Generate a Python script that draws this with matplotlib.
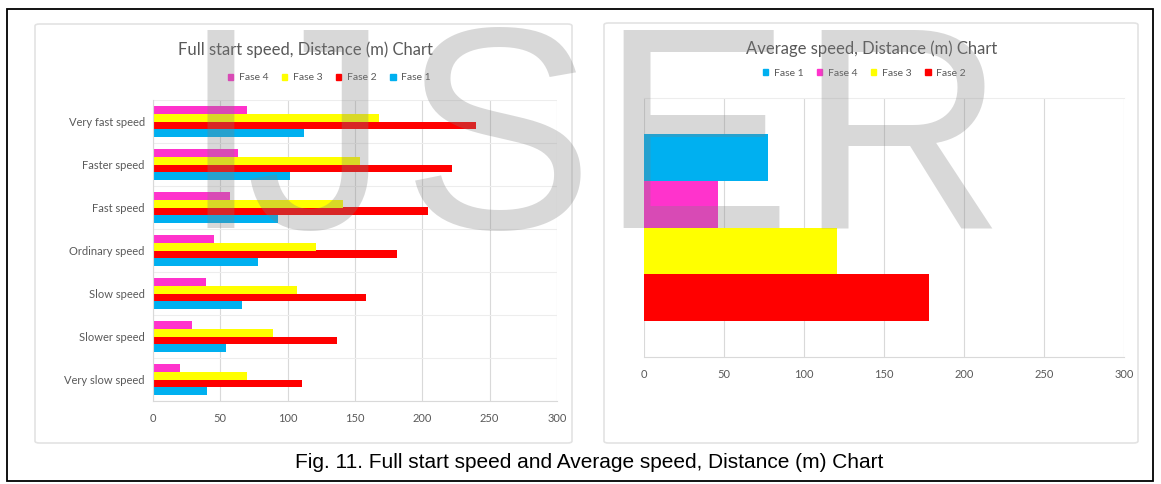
import numpy as np
import matplotlib
matplotlib.use("Agg")
import matplotlib.pyplot as plt
from matplotlib.patches import Patch, FancyBboxPatch, Rectangle

# data
categories = ["Very slow speed", "Slower speed", "Slow speed", "Ordinary speed",
              "Fast speed", "Faster speed", "Very fast speed"]
fase1 = [40, 54, 66, 78, 93, 102, 112]
fase2 = [111, 137, 158, 181, 204, 222, 240]
fase3 = [70, 89, 107, 121, 141, 154, 168]
fase4 = [20, 29, 39, 45, 57, 63, 70]

avg_labels = ["Fase 1", "Fase 4", "Fase 3", "Fase 2"]   # top to bottom
avg_values = [77.5, 46, 120.5, 178]

x_ticks = [0, 50, 100, 150, 200, 250, 300]

watermark = "IJSER"

c_f1 = "#00B0F0"
c_f2 = "#FF0000"
c_f3 = "#FFFF00"
c_f4 = "#FF33CC"
grey_txt = "#595959"
grid_c = "#D9D9D9"

W, H = 1161, 484
fig = plt.figure(figsize=(W / 100, H / 100), dpi=100)
fig.patch.set_facecolor("white")


def box(x0, y0, x1, y1):
    # pixel box (top-left origin) -> figure fraction rect
    return [x0 / W, 1 - y1 / H, (x1 - x0) / W, (y1 - y0) / H]


def px(x, y):
    return x / W, 1 - y / H


# outer frame and the two chart panels
fig.patches.append(Rectangle(px(7, 481), (1153 - 7) / W, (481 - 9) / H,
                             transform=fig.transFigure, fill=False,
                             edgecolor="black", lw=1.3, zorder=-2))
for (x0, y0, x1, y1) in [(35, 24, 572, 443), (604, 23, 1138, 443)]:
    fig.patches.append(FancyBboxPatch(px(x0, y1), (x1 - x0) / W, (y1 - y0) / H,
                                      boxstyle="round,pad=0,rounding_size=0.004",
                                      transform=fig.transFigure, facecolor="white",
                                      edgecolor="#E3E3E3", lw=1.2, zorder=-1))

font = "Lato"

# ---- left chart: full start speed
ax1 = fig.add_axes(box(153, 100, 557, 401))
y = np.arange(len(categories))
h = 0.175
ax1.barh(y - 1.5 * h, fase1, height=h, color=c_f1, zorder=2)
ax1.barh(y - 0.5 * h, fase2, height=h, color=c_f2, zorder=2)
ax1.barh(y + 0.5 * h, fase3, height=h, color=c_f3, zorder=2)
ax1.barh(y + 1.5 * h, fase4, height=h, color=c_f4, zorder=2)
ax1.set_ylim(-0.5, len(categories) - 0.5)
ax1.set_xlim(0, 300)
ax1.set_xticks(x_ticks)
ax1.set_yticks(y)
ax1.set_yticklabels(categories, fontfamily=font)
ax1.set_yticks(np.arange(len(categories) + 1) - 0.5, minor=True)
ax1.grid(axis="x", color=grid_c, lw=0.8, zorder=0)
ax1.grid(axis="y", which="minor", color="#EDEDED", lw=0.8, zorder=0)
ax1.tick_params(axis="both", which="both", length=0, colors=grey_txt, labelsize=8)
ax1.tick_params(axis="x", pad=9)
ax1.tick_params(axis="y", pad=6)
for s in ["top", "right"]:
    ax1.spines[s].set_visible(False)
ax1.spines["left"].set_color(grid_c)
ax1.spines["bottom"].set_color(grid_c)
for lab in ax1.get_xticklabels():
    lab.set_fontfamily(font)

fig.text(*px(305, 50), "Full start speed, Distance (m) Chart", ha="center",
         va="center", fontsize=12, color=grey_txt, fontfamily=font)
h1 = [Patch(color=c_f4), Patch(color=c_f3), Patch(color=c_f2), Patch(color=c_f1)]
fig.legend(h1, ["Fase 4", "Fase 3", "Fase 2", "Fase 1"], loc="center",
           bbox_to_anchor=px(329, 78), ncol=4, frameon=False,
           prop={"family": font, "size": 7.5}, labelcolor=grey_txt,
           handlelength=0.55, handleheight=0.55, handletextpad=0.5,
           columnspacing=1.3)

# ---- right chart: average speed
ax2 = fig.add_axes(box(644, 98, 1124, 357))
hb = 0.18
offs = [1.5 * hb, 0.5 * hb, -0.5 * hb, -1.5 * hb]
cols = [c_f1, c_f4, c_f3, c_f2]
for v, o, c in zip(avg_values, offs, cols):
    ax2.barh(o, v, height=hb, color=c, zorder=2)
ax2.set_ylim(-0.5, 0.5)
ax2.set_xlim(0, 300)
ax2.set_xticks(x_ticks)
ax2.set_yticks([])
ax2.grid(axis="x", color=grid_c, lw=0.8, zorder=0)
ax2.tick_params(axis="x", length=0, colors=grey_txt, labelsize=8, pad=9)
for s in ["left", "right"]:
    ax2.spines[s].set_visible(False)
ax2.spines["top"].set_color("#EDEDED")
ax2.spines["bottom"].set_color(grid_c)
for lab in ax2.get_xticklabels():
    lab.set_fontfamily(font)

fig.text(*px(872, 49), "Average speed, Distance (m) Chart", ha="center",
         va="center", fontsize=12, color=grey_txt, fontfamily=font)
h2 = [Patch(color=c) for c in cols]
fig.legend(h2, avg_labels, loc="center", bbox_to_anchor=px(864, 73), ncol=4,
           frameon=False, prop={"family": font, "size": 7.5}, labelcolor=grey_txt,
           handlelength=0.55, handleheight=0.55, handletextpad=0.5,
           columnspacing=1.3)

# caption
fig.text(*px(589, 463), "Fig. 11. Full start speed and Average speed, Distance (m) Chart",
         ha="center", va="center", fontsize=15, fontfamily="Liberation Sans",
         color="black")

# watermark letters, placed one by one, on top of everything
wm_centres = [220, 317, 498, 695, 901]
for ch, xc in zip(watermark, wm_centres):
    fig.text(*px(xc, 228), ch, ha="center", va="baseline", fontsize=207,
             fontfamily="Liberation Sans", color="#808080", alpha=0.3, zorder=10)

fig.savefig("out.png", dpi=100)
